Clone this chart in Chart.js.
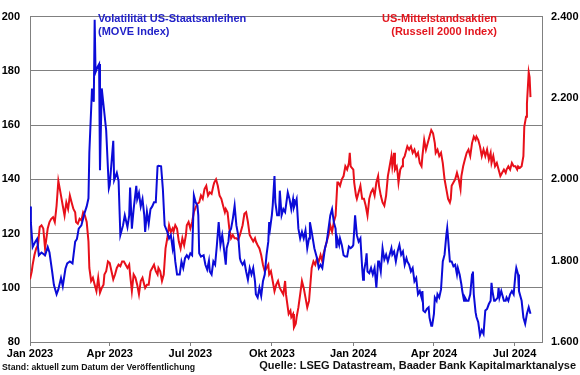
<!DOCTYPE html>
<html><head><meta charset="utf-8">
<script src="https://cdn.jsdelivr.net/npm/chart.js@4.4.1/dist/chart.umd.min.js"></script>
<style>html,body{margin:0;padding:0;background:#fff;}#wrap{width:580px;height:375px;position:relative}</style>
</head><body><div id="wrap"><canvas id="c" width="580" height="375"></canvas></div>
<script>
// x values: days since 1 Jan 2023
const tickDays = [0, 90, 181, 273, 365, 456, 547];
const tickLabels = ['Jan 2023','Apr 2023','Jul 2023','Okt 2023','Jan 2024','Apr 2024','Jul 2024'];

// MOVE Index (left axis)
const moveDays = [0,1,3,6,8,10,13,17,20,22,25,27,30,32,35,37,40,42,45,48,51,53,55,58,60,62,64,66,67,70,72,73,74,76,78,79,81,83,86,89,90,94,95,98,100,102,105,107,110,112,113,115,117,120,121,123,125,127,129,130,132,134,136,138,140,142,144,145,148,150,152,155,157,159,161,162,164,166,169,171,173,175,177,179,181,183,185,187,189,190,191,193,196,198,200,202,203,205,207,209,211,213,215,217,218,221,222,224,225,227,229,231,233,235,237,238,240,242,244,246,248,250,252,254,255,257,259,261,263,265,267,269,270,271,273,274,276,277,279,281,282,284,286,288,291,293,295,297,298,301,303,305,307,309,311,313,315,316,318,321,324,326,328,330,331,333,335,337,339,341,343,345,346,347,349,350,352,354,356,358,360,362,364,365,367,369,371,373,375,376,377,379,380,381,383,385,387,389,391,393,394,396,398,400,402,404,406,408,409,411,413,415,417,419,421,423,425,426,428,430,432,434,436,438,440,442,443,444,446,448,450,451,453,454,456,457,459,460,462,464,466,468,470,471,472,474,476,478,480,482,483,485,487,488,490,491,493,495,497,499,500,501,503,504,506,508,510,512,514,516,518,520,521,522,524,525,528,529,530,532,533,535,537,538,540,542,544,546,548,549,551,552,554,555,557,559,561,563,565];
const moveValues = [130,124,115,117,118,112,113,112,115,113,106,101,97.6,99.4,103.6,100.6,107,109,109.7,109,117,118,121.8,123,125.5,128,130,133,150,173.5,168.6,198.8,179.5,181.3,182.5,143.3,173.5,167.4,158,136.7,138,154.2,139.7,142.4,139.4,119.4,123,126.7,122.4,126.7,137,121.8,129,137.6,132.7,135,130,132.7,126.7,120.6,128,123.6,129,130,131.5,131.5,144.8,145,144.8,136.4,123,120.6,118.2,119.4,114.6,117,109.7,104.9,104.9,109.7,107.3,110.9,112,110.9,112.7,112,134,131.5,130.3,126.7,112.7,111.5,112,108.5,106.7,110,106,104.9,109.7,108.5,115.8,124.2,115.8,119.4,117,108.5,114.6,117,120.6,121.8,125.5,130.3,123,119.4,110.9,109.7,108.5,109.7,106,103,107.3,104.9,107.3,102.4,97.6,96.4,100,97,102.4,104.9,112,117,124.2,121.8,126.7,130.3,141.2,131.5,126.7,126.7,135.8,126.7,129,127.9,135.2,132.7,129,132.7,129.7,132.7,121.8,118.2,120.6,118.2,121.2,114.6,118.2,124.2,120.6,114.6,110.9,107.3,108.5,107.3,109.7,114.6,117,121.8,126.7,129,124.2,121.8,114.6,118.2,115.8,118.2,115.8,112,111.5,111.5,115.2,114.6,115.2,115.8,126.7,119.4,117,118.2,107.3,103,106,109.7,112.7,106,105.4,107.3,104.9,107.3,100,109.7,109.7,106,114.6,110.4,112.2,109.7,112.2,114.6,112.2,113.4,109.7,113.4,115.8,112.2,113.4,108.5,110.9,109.7,108.5,106,107.3,102.4,103.6,97.6,98.8,96.4,98.8,91.6,91,92.2,92.8,89,86,86,90.4,96.4,95.2,97.6,96.4,99.4,109.7,112.2,119.4,122,118.2,109.7,109.7,107.9,108.5,104.9,107.3,104.9,101.2,98.8,95.2,96.4,95.2,95.2,97.6,104.9,106,97.6,91,89.2,87.3,82.5,84.4,83,91.6,92.2,94,95.2,101.8,98.8,95.2,95.2,96.4,100,96.4,98.8,97.6,95.2,95.2,96.4,95.2,97.6,98.8,97.6,104.9,107.3,104.9,98.8,96.4,95.2,89,86.7,90.4,92.8,90.4];

// Russell 2000 Index (right axis)
const rutDays = [0,2,3,5,7,9,11,13,15,17,19,20,22,24,26,28,30,32,34,35,37,39,41,43,45,47,49,51,52,54,56,58,60,62,64,66,67,69,71,73,75,77,79,81,83,84,86,88,90,92,94,96,98,100,102,104,106,108,110,112,113,115,117,119,121,123,125,127,129,130,132,134,136,138,140,142,144,145,147,149,151,153,155,157,159,161,162,164,166,168,170,172,174,176,177,179,181,183,185,187,189,191,193,195,197,199,201,203,205,207,208,210,212,214,216,218,220,221,223,225,227,229,231,233,235,237,238,240,242,244,246,248,250,252,254,255,257,259,261,263,265,267,269,270,272,274,276,278,280,282,284,286,288,289,291,292,294,295,297,298,300,301,303,305,307,309,311,313,315,316,318,320,322,324,326,328,330,331,333,335,337,339,341,343,345,347,348,350,352,354,356,358,360,361,362,365,366,368,369,371,373,375,377,379,381,383,385,387,389,391,393,394,396,398,400,402,404,406,408,409,411,412,414,415,416,418,420,421,423,425,426,428,430,432,434,436,438,440,442,443,445,447,449,451,453,455,457,458,460,462,464,466,468,470,472,474,475,476,478,480,482,484,486,487,489,491,493,495,497,499,501,503,504,506,508,510,512,514,516,518,520,521,523,525,527,529,531,533,535,537,538,540,542,544,546,548,550,551,553,555,557,558,560,561,563,564,565];
const rutValues = [1754,1774,1790,1814,1830,1838,1883,1887,1879,1830,1863,1879,1895,1903,1907,1895,1935,1996,1972,1960,1935,1911,1943,1927,1960,1943,1927,1919,1895,1891,1903,1899,1919,1911,1895,1847,1782,1750,1758,1741,1725,1758,1721,1733,1741,1766,1774,1798,1794,1774,1754,1766,1782,1790,1786,1798,1798,1790,1782,1790,1766,1725,1766,1758,1741,1717,1750,1758,1741,1733,1741,1741,1774,1782,1790,1774,1766,1782,1774,1750,1766,1830,1855,1887,1871,1879,1871,1887,1879,1847,1830,1855,1838,1863,1887,1895,1879,1895,1919,1931,1940,1943,1960,1952,1976,1984,1960,1968,1964,1984,1992,2000,1984,1960,1952,1935,1919,1927,1919,1879,1855,1863,1855,1855,1851,1863,1871,1887,1915,1919,1895,1863,1855,1847,1855,1847,1838,1830,1814,1790,1774,1782,1790,1766,1774,1750,1725,1741,1750,1733,1725,1717,1750,1717,1685,1669,1677,1661,1669,1636,1645,1661,1685,1717,1750,1733,1709,1685,1701,1701,1782,1798,1790,1806,1798,1814,1798,1814,1830,1847,1863,1887,1871,1895,1911,1992,1992,1984,2000,2008,2032,2024,2040,2065,2032,2024,1992,1960,1952,1968,1984,1952,1952,1935,1911,1952,1968,1976,1960,1992,2008,1984,1960,1943,1935,1960,2008,2032,2057,2032,2065,2024,2032,2016,1992,2024,2032,2049,2057,2073,2081,2073,2081,2065,2073,2057,2065,2040,2032,2057,2097,2073,2089,2105,2121,2113,2089,2065,2073,2057,2065,2040,2000,1976,1952,1943,1952,1984,1992,2000,2016,2000,1976,2008,2032,2049,2065,2073,2057,2089,2105,2097,2105,2097,2081,2057,2073,2057,2073,2049,2065,2040,2057,2032,2040,2024,2008,2016,2024,2016,2024,2032,2024,2040,2032,2032,2024,2032,2028,2032,2057,2129,2154,2186,2263,2251,2202];

const leftAxis = {min: 80, max: 200, step: 20};
const rightAxis = {min: 1600, max: 2400, step: 200};

const BLUE = '#0b0bd8', RED = '#e8101a';
const FONT = '"Liberation Sans", Arial, sans-serif';
const fmt = v => String(v).replace(/\B(?=(\d{3})+(?!\d))/g, '.');

const textPlugin = {
  id: 'texts',
  afterDraw(chart) {
    const ctx = chart.ctx;
    ctx.save();
    ctx.textBaseline = 'middle';
    ctx.font = 'bold 11px ' + FONT;
    ctx.fillStyle = '#2222c8';
    ctx.textAlign = 'left';
    ctx.fillText('Volatilität US-Staatsanleihen', 98, 18.5);
    ctx.fillText('(MOVE Index)', 98, 31.5);
    ctx.fillStyle = '#e3161e';
    ctx.textAlign = 'right';
    ctx.fillText('US-Mittelstandsaktien', 497, 18.5);
    ctx.fillText('(Russell 2000 Index)', 497, 31.5);
    ctx.fillStyle = '#111';
    ctx.textAlign = 'right';
    ctx.fillText('Quelle: LSEG Datastream, Baader Bank Kapitalmarktanalyse', 576, 366);
    ctx.font = 'bold 8.7px ' + FONT;
    ctx.textAlign = 'left';
    ctx.fillText('Stand: aktuell zum Datum der Veröffentlichung', 2, 368);
    ctx.restore();
  }
};

new Chart(document.getElementById('c'), {
  type: 'line',
  data: {
    datasets: [
      {label: 'MOVE', data: moveDays.map((d, i) => ({x: d, y: moveValues[i]})), yAxisID: 'y',
       borderColor: BLUE, borderWidth: 2, pointRadius: 0, tension: 0, fill: false},
      {label: 'Russell 2000', data: rutDays.map((d, i) => ({x: d, y: rutValues[i]})), yAxisID: 'y2',
       borderColor: RED, borderWidth: 2, pointRadius: 0, tension: 0, fill: false}
    ]
  },
  options: {
    responsive: false, animation: false, devicePixelRatio: 1,
    layout: {padding: {top: 10, left: 0, right: 0, bottom: 0}},
    plugins: {legend: {display: false}, tooltip: {enabled: false}},
    scales: {
      x: {
        type: 'linear', min: 0, max: 578, position: 'bottom',
        afterBuildTicks: s => { s.ticks = tickDays.map(v => ({value: v})); },
        afterFit: s => { s.height = 33; },
        ticks: {autoSkip: false, maxRotation: 0, padding: 1, color: '#000',
          font: {family: FONT, weight: 'bold', size: 11},
          callback: v => tickLabels[tickDays.indexOf(v)]},
        grid: {drawOnChartArea: false, drawTicks: true, tickLength: 4, color: '#808080'},
        border: {color: '#808080'}
      },
      y: {
        position: 'left', min: leftAxis.min, max: leftAxis.max,
        afterFit: s => { s.width = 30; },
        ticks: {stepSize: leftAxis.step, padding: 10, color: '#000', font: {family: FONT, weight: 'bold', size: 11}},
        grid: {color: '#808080', drawTicks: false},
        border: {color: '#808080'}
      },
      y2: {
        position: 'right', min: rightAxis.min, max: rightAxis.max,
        afterFit: s => { s.width = 38; },
        ticks: {stepSize: rightAxis.step, padding: 9, color: '#000', font: {family: FONT, weight: 'bold', size: 11},
          callback: v => fmt(v)},
        grid: {drawOnChartArea: false, drawTicks: false},
        border: {color: '#808080'}
      }
    }
  },
  plugins: [textPlugin]
});
</script></body></html>
